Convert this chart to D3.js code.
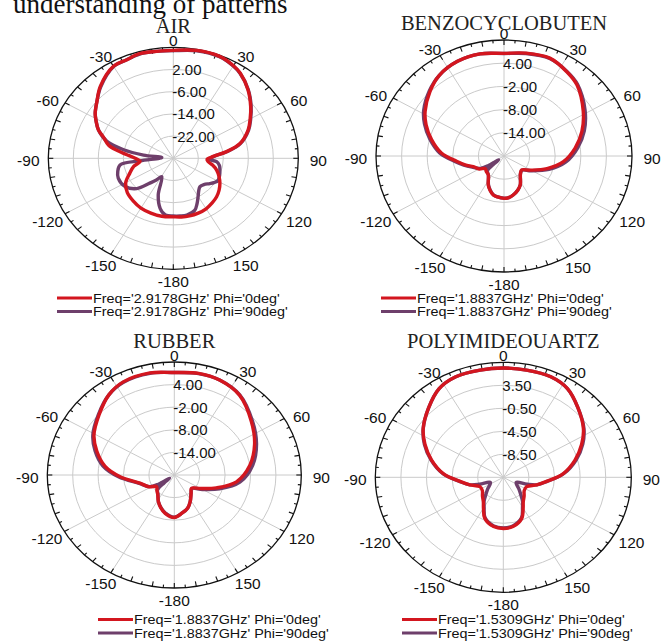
<!DOCTYPE html>
<html><head><meta charset="utf-8">
<script src="https://cdn.jsdelivr.net/npm/d3@7"></script>
<style>body{margin:0;background:#fff;} svg{display:block;}</style>
</head><body>
<svg id="c" width="664" height="642"></svg>
<script>
// ---------------- DATA ----------------
const headerText = "understanding of patterns";
const titles = ["AIR", "BENZOCYCLOBUTEN", "RUBBER", "POLYIMIDEOUARTZ"];
const freqLabels = ["2.9178GHz", "1.8837GHz", "1.8837GHz", "1.5309GHz"];
const phiLabels = ["0deg", "90deg"];
const rDomains = [[-30, 10], [-20, 10], [-20, 10], [-12.5, 7.5]];
const ringValues = [[2, -6, -14, -22], [4, -2, -8, -14], [4, -2, -8, -14], [3.5, -0.5, -4.5, -8.5]];
const ringLabels = [["2.00", "-6.00", "-14.00", "-22.00"], ["4.00", "-2.00", "-8.00", "-14.00"],
                    ["4.00", "-2.00", "-8.00", "-14.00"], ["3.50", "-0.50", "-4.50", "-8.50"]];
const angleTicks = [-150, -120, -90, -60, -30, 0, 30, 60, 90, 120, 150, 180];
const angleTickLabels = ["-150", "-120", "-90", "-60", "-30", "0", "30", "60", "90", "120", "150", "-180"];

// AIR
const airPhi0Ang = [-180,-170,-160,-150,-140,-130,-120,-111,-103,-96,-90,-85,-81,-77,-71,-67,-61,-57,-50,-42,-30,-23,-16,-10,0,11,22,30,35,44,53,60,67,76,82,87,92,96,101,107,114,121,128,135,142,150,158,166,173];
const airPhi0Db  = [-8.9,-8.8,-9.0,-9.3,-10.0,-10.8,-12.4,-15.1,-17.0,-19.3,-17.8,-15.1,-11.7,-8.7,-6.3,-4.0,-1.7,-0.2,1.9,4.9,8.3,8.5,9.2,9.0,8.9,9.6,9.6,8.5,7.4,4.4,1.0,-1.6,-4.0,-8.0,-12.8,-17.2,-19.2,-18.8,-17.2,-15.5,-14.0,-12.6,-11.4,-10.4,-9.7,-9.0,-8.7,-8.6,-8.7];
const airPhi90Ang = [-180,-173,-167,-160,-151,-145,-140,-133,-123,-112,-105,-98,-95,-90,-86,-83,-79,-74,-67,-61,-57,-50,-42,-30,-23,-16,-10,0,11,22,30,35,44,53,60,67,76,82,87,92,95,100,106,112,119,124,128,134,140,145,149,155,160,168,174];
const airPhi90Db  = [-9.2,-9.4,-11.4,-15.9,-22.4,-20.3,-18.3,-14.0,-11.5,-11.0,-11.6,-12.8,-19.3,-25.5,-26.3,-20.4,-13.8,-7.9,-4.0,-1.7,-0.2,1.9,4.7,8.2,8.5,9.1,9.0,8.8,9.5,9.5,8.4,7.3,4.5,1.2,-1.4,-3.8,-7.8,-12.5,-17.0,-18.3,-16.1,-15.0,-14.5,-14.0,-13.6,-14.3,-15.2,-16.4,-16.7,-15.8,-14.5,-12.0,-10.0,-9.1,-9.1];

// BENZOCYCLOBUTEN
const bcbPhi0Ang = [-180,-172,-166,-160,-154,-143,-135,-126,-120,-111,-104,-97,-87,-76,-66,-58,-46,-36,-24,-12,0,11,23,34,43,58,71,83,96,108,121,131,140,153,160,168,174];
const bcbPhi0Db  = [-9.05,-9.3,-9.6,-10.5,-11.6,-13.9,-14.2,-14.5,-13.3,-12.3,-10.6,-8.8,-5.3,-2.5,0.0,1.8,4.1,5.8,6.8,7.0,6.55,7.1,7.5,6.3,5.1,1.9,-0.7,-3.2,-6.0,-9.4,-12.9,-14.5,-14.0,-11.6,-10.6,-9.7,-9.2];
const bcbPhi90Ang = [-180,-172,-166,-160,-154,-143,-135,-131,-128,-124,-120,-111,-104,-97,-87,-76,-66,-58,-46,-36,-24,-12,0,11,23,34,43,58,71,83,96,108,121,131,140,153,160,168,174];
const bcbPhi90Db  = [-9.1,-9.3,-9.7,-10.6,-11.7,-13.9,-14.5,-17.0,-18.4,-15.5,-13.6,-12.0,-10.3,-8.4,-4.9,-2.1,0.4,2.2,4.3,5.8,6.8,7.0,6.5,7.0,7.4,6.4,5.3,2.4,-0.1,-2.6,-5.4,-8.9,-12.6,-14.4,-14.0,-11.6,-10.6,-9.7,-9.2];

// RUBBER
const rubPhi0Ang = [-180,-168,-160,-152,-143,-135,-126,-118,-105,-92,-82,-71,-61,-48,-36,-26,-12,0,12,23,36,52,67,82,97,109,120,131,141,152,160,170];
const rubPhi0Db  = [-8.7,-9.6,-10.7,-12.0,-13.5,-14.2,-14.8,-13.3,-11.6,-7.2,-3.5,-0.65,1.7,3.9,6.3,7.5,7.7,7.2,7.6,7.4,6.2,3.1,0.6,-2.0,-5.2,-9.5,-12.8,-14.6,-13.7,-12.0,-10.7,-9.7];
const rubPhi90Ang = [-180,-168,-160,-152,-143,-135,-131,-127,-123,-118,-105,-92,-82,-71,-61,-48,-36,-26,-12,0,12,23,36,52,67,82,97,109,120,131,141,152,160,170];
const rubPhi90Db  = [-8.8,-9.7,-10.8,-12.0,-13.6,-14.4,-16.8,-18.6,-15.5,-13.4,-11.4,-6.8,-3.0,-0.2,2.0,4.1,6.3,7.4,7.6,7.2,7.5,7.4,6.3,3.4,1.1,-1.3,-4.4,-8.7,-12.3,-14.5,-13.7,-12.0,-10.7,-9.7];

// POLYIMIDE QUARTZ
const pqPhi0Ang = [-180,-170,-158,-150,-144,-135,-125,-114,-104,-96,-86,-75,-65,-56,-44,-33,-23,-11,0,11,23,33,44,56,65,75,86,96,104,114,125,135,144,150,158,170];
const pqPhi0Db  = [-3.6,-3.8,-4.8,-6.3,-7.2,-7.9,-8.5,-8.5,-7.1,-5.7,-3.1,-0.9,1.0,2.6,4.3,5.9,6.5,6.5,6.5,6.5,6.5,5.9,4.3,2.6,1.0,-0.9,-3.1,-5.7,-7.1,-8.5,-8.5,-7.9,-7.2,-6.3,-4.8,-3.8];
const pqPhi90Ang = [-180,-170,-158,-150,-144,-140,-130,-114,-108,-104,-96,-86,-75,-65,-56,-44,-33,-23,-11,0,11,23,33,44,56,65,75,86,96,104,108,114,130,140,144,150,158,170];
const pqPhi90Db  = [-3.7,-3.9,-4.9,-6.5,-7.4,-8.1,-9.3,-10.3,-8.6,-7.1,-5.6,-3.0,-0.8,1.1,2.6,4.3,5.9,6.5,6.5,6.5,6.5,6.5,5.9,4.3,2.7,1.2,-0.7,-3.0,-5.6,-7.1,-8.6,-10.3,-9.3,-8.1,-7.4,-6.5,-4.9,-3.9];

const seriesAngles = [[airPhi0Ang, airPhi90Ang], [bcbPhi0Ang, bcbPhi90Ang], [rubPhi0Ang, rubPhi90Ang], [pqPhi0Ang, pqPhi90Ang]];
const seriesDb = [[airPhi0Db, airPhi90Db], [bcbPhi0Db, bcbPhi90Db], [rubPhi0Db, rubPhi90Db], [pqPhi0Db, pqPhi90Db]];

// ---------------- LAYOUT ----------------
const panels = [
  {cx: 173.3, cy: 158.3, rx: 125, ry: 111, titleY: 33,  legX: 57,  legY: 298},
  {cx: 504.0, cy: 156.0, rx: 128, ry: 116, titleY: 30,  legX: 381, legY: 298},
  {cx: 174.3, cy: 475.0, rx: 127, ry: 113, titleY: 348, legX: 98,  legY: 619.5},
  {cx: 503.3, cy: 477.3, rx: 128, ry: 115, titleY: 348, legX: 402, legY: 619.5}
];
const colors = ["#d3161f", "#6e3f6b"];
const gridColor = "#cacaca";
const sans = "'Liberation Sans', Arial, sans-serif";
const serif = "'Liberation Serif', 'Times New Roman', serif";

const svg = d3.select("#c");
const rad = d => d * Math.PI / 180;

svg.append("text").attr("x", 13).attr("y", 13)
  .attr("font-family", serif).attr("font-size", 27).attr("fill", "#111")
  .text(headerText);

panels.forEach((p, i) => {
  const g = svg.append("g");
  const rScale = d3.scaleLinear().domain(rDomains[i]).range([0, 1]).clamp(true);
  const px = (a, rho) => p.cx + rho * p.rx * Math.sin(rad(a));
  const py = (a, rho) => p.cy - rho * p.ry * Math.cos(rad(a));

  // rings
  g.selectAll("ellipse.ring").data(ringValues[i]).join("ellipse")
    .attr("cx", p.cx).attr("cy", p.cy)
    .attr("rx", d => rScale(d) * p.rx).attr("ry", d => rScale(d) * p.ry)
    .attr("fill", "none").attr("stroke", gridColor).attr("stroke-width", 1);

  // spokes
  g.selectAll("line.spoke").data(d3.range(0, 180, 30)).join("line")
    .attr("x1", a => px(a, 1)).attr("y1", a => py(a, 1))
    .attr("x2", a => px(a + 180, 1)).attr("y2", a => py(a + 180, 1))
    .attr("stroke", gridColor).attr("stroke-width", 1);

  // outer ellipse
  g.append("ellipse").attr("cx", p.cx).attr("cy", p.cy).attr("rx", p.rx).attr("ry", p.ry)
    .attr("fill", "none").attr("stroke", "#111").attr("stroke-width", 1.3);

  // ticks (inward)
  g.selectAll("line.tick").data(d3.range(0, 360, 5)).join("line")
    .each(function(a) {
      const x0 = px(a, 1), y0 = py(a, 1);
      const dx = p.cx - x0, dy = p.cy - y0, len = Math.hypot(dx, dy);
      const L = a % 10 === 0 ? 5 : 3;
      d3.select(this).attr("x1", x0).attr("y1", y0)
        .attr("x2", x0 + dx / len * L).attr("y2", y0 + dy / len * L);
    })
    .attr("stroke", "#111").attr("stroke-width", 1.1);

  // curves: phi=90 underneath, phi=0 on top
  const line = d3.line()
    .x(d => px(d[0], rScale(d[1])))
    .y(d => py(d[0], rScale(d[1])))
    .curve(d3.curveCatmullRomClosed.alpha(0.5));
  [1, 0].forEach(s => {
    const pts = seriesAngles[i][s].map((a, k) => [a, seriesDb[i][s][k]]);
    g.append("path").attr("d", line(pts)).attr("fill", "none")
      .attr("stroke", colors[s]).attr("stroke-width", 3.4).attr("stroke-linejoin", "round");
  });

  // ring labels
  g.selectAll("text.rl").data(ringValues[i]).join("text")
    .attr("x", p.cx - 1).attr("y", d => p.cy - rScale(d) * p.ry)
    .attr("dy", "0.36em")
    .attr("font-family", sans).attr("font-size", 15).attr("fill", "#111")
    .text((d, k) => ringLabels[i][k]);

  // angle labels
  g.selectAll("text.al").data(angleTicks).join("text")
    .attr("x", a => p.cx + (p.rx + 20) * Math.sin(rad(a)))
    .attr("y", a => p.cy - (p.ry + 9.5) * Math.cos(rad(a)) + 2.5)
    .attr("dy", "0.36em").attr("text-anchor", "middle")
    .attr("font-family", sans).attr("font-size", 15.5).attr("fill", "#111")
    .text((a, k) => angleTickLabels[k]);

  // title
  g.append("text").attr("x", p.cx).attr("y", p.titleY).attr("text-anchor", "middle")
    .attr("font-family", serif).attr("font-size", 20.5).attr("fill", "#222")
    .text(titles[i]);

  // legend
  phiLabels.forEach((ph, s) => {
    const y = p.legY + s * 13.5;
    g.append("line").attr("x1", p.legX).attr("x2", p.legX + 35).attr("y1", y).attr("y2", y)
      .attr("stroke", colors[s]).attr("stroke-width", 3);
    g.append("text").attr("transform", `translate(${p.legX + 36},${y}) scale(1.15,1)`)
      .attr("dy", "0.36em")
      .attr("font-family", sans).attr("font-size", 12.5).attr("fill", "#111")
      .text(`Freq='${freqLabels[i]}' Phi='${ph}'`);
  });
});
</script>
</body></html>
